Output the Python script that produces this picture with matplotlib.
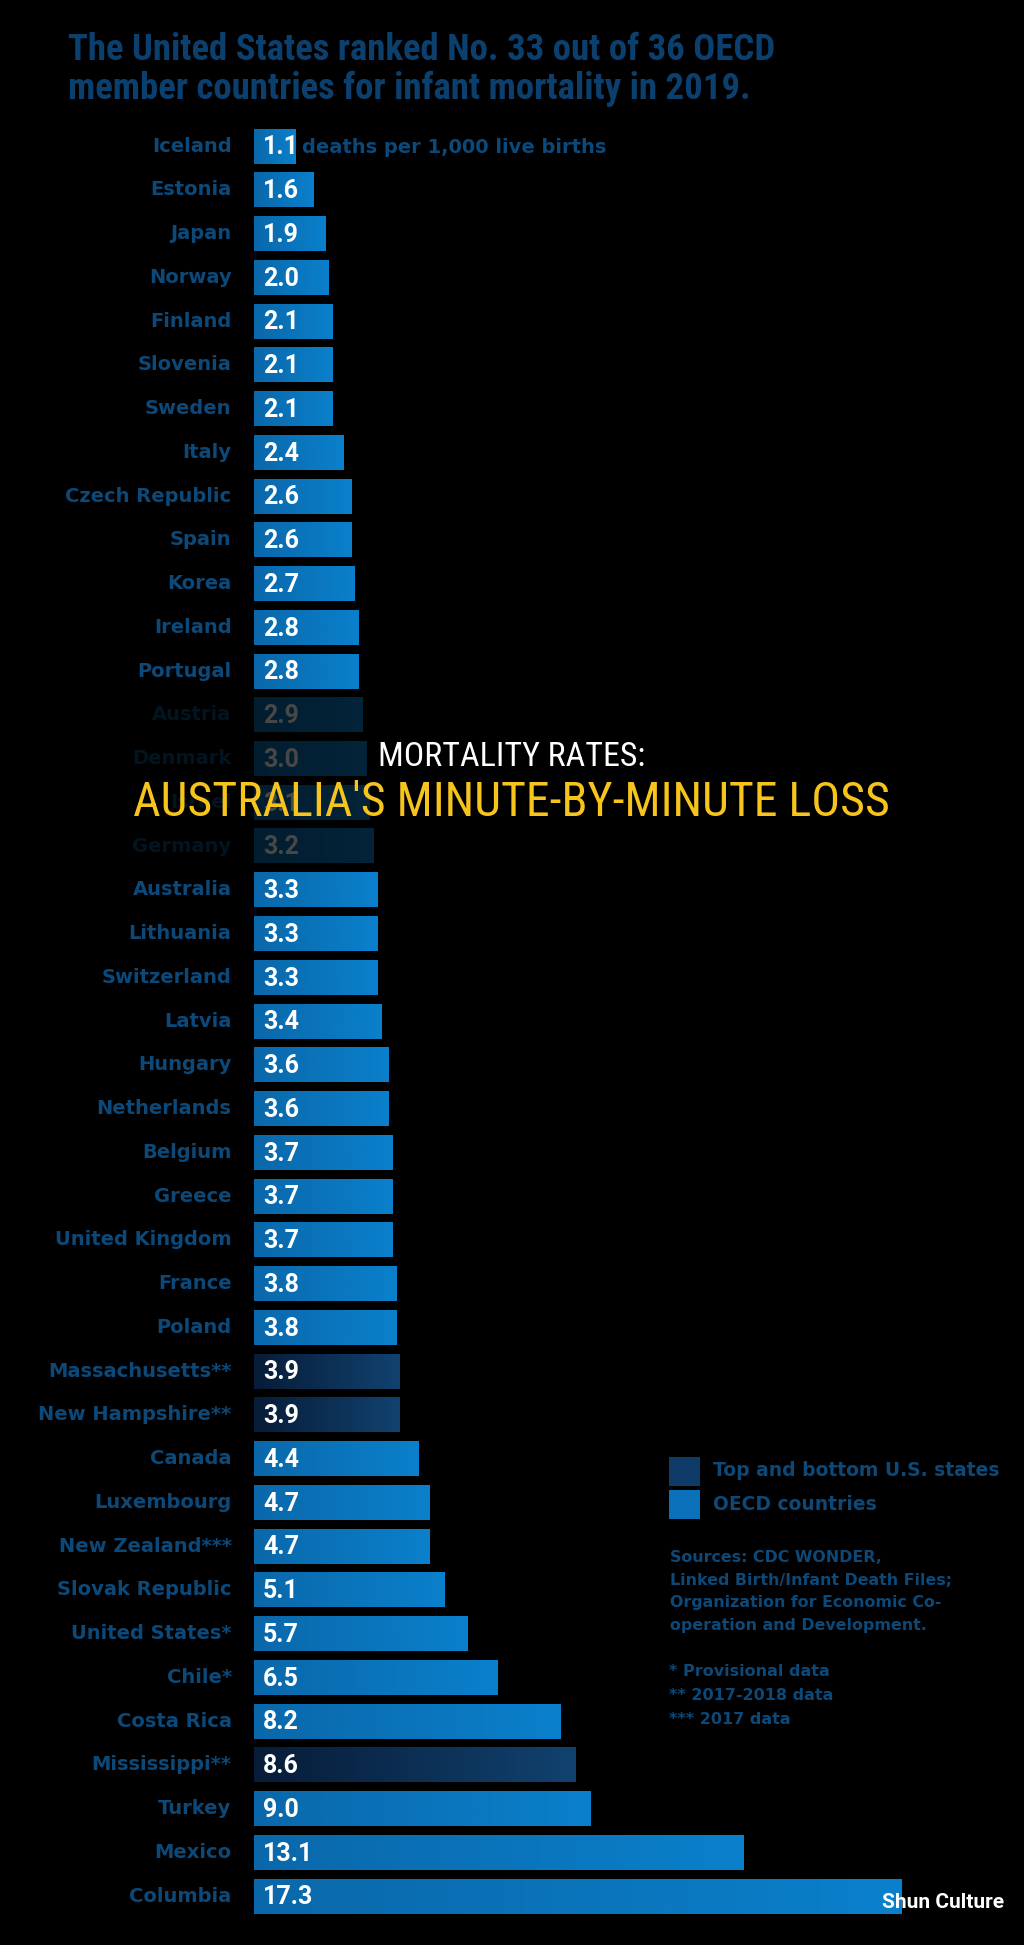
import matplotlib
matplotlib.use("Agg")
import matplotlib.pyplot as plt
import numpy as np
from matplotlib.colors import LinearSegmentedColormap
from matplotlib.patches import Rectangle

# infant deaths per 1,000 live births, 2019
countries = ["Iceland", "Estonia", "Japan", "Norway", "Finland", "Slovenia", "Sweden",
             "Italy", "Czech Republic", "Spain", "Korea", "Ireland", "Portugal",
             "Austria", "Denmark", "Israel", "Germany", "Australia", "Lithuania",
             "Switzerland", "Latvia", "Hungary", "Netherlands", "Belgium", "Greece",
             "United Kingdom", "France", "Poland", "Massachusetts**", "New Hampshire**",
             "Canada", "Luxembourg", "New Zealand***", "Slovak Republic",
             "United States*", "Chile*", "Costa Rica", "Mississippi**", "Turkey",
             "Mexico", "Columbia"]
rates = [1.1, 1.6, 1.9, 2.0, 2.1, 2.1, 2.1, 2.4, 2.6, 2.6, 2.7, 2.8, 2.8,
         2.9, 3.0, 3.1, 3.2, 3.3, 3.3, 3.3, 3.4, 3.6, 3.6, 3.7, 3.7, 3.7, 3.8, 3.8,
         3.9, 3.9, 4.4, 4.7, 4.7, 5.1, 5.7, 6.5, 8.2, 8.6, 9.0, 13.1, 17.3]
us_states = ["Massachusetts**", "New Hampshire**", "Mississippi**"]

W, H = 1024, 1945
x0 = 254          # pixel where a bar starts
px_unit = 37.4    # pixels per death per 1,000
y0, pitch = 146, 43.75

label_col = "#0c4878"
oecd_cmap = LinearSegmentedColormap.from_list("oecd", ["#0a68aa", "#0a80cc"])
state_cmap = LinearSegmentedColormap.from_list("state", ["#071c38", "#11426f"])

fig = plt.figure(figsize=(W / 100, H / 100), dpi=100, facecolor="black")
ax = fig.add_axes([0, 0, 1, 1])
ax.set_facecolor("black")

grad = np.linspace(0, 1, 256).reshape(1, -1)
bh = 0.8
for i, (name, v) in enumerate(zip(countries, rates)):
    cm = state_cmap if name in us_states else oecd_cmap
    ax.imshow(grad, extent=[0, v, i + bh / 2, i - bh / 2], cmap=cm,
              aspect="auto", interpolation="bilinear", zorder=2)
    ax.text(-0.6, i, name, ha="right", va="center", color=label_col,
            fontsize=14, fontweight="bold", family="DejaVu Sans", zorder=3)
    ax.text(0.24, i + 0.03, f"{v:.1f}", ha="left", va="center", color="white",
            fontsize=18, fontweight="bold", family="Roboto", zorder=3)

ax.text(rates[0] + 0.18, 0.03, "deaths per 1,000 live births", ha="left", va="center",
        color=label_col, fontsize=14, fontweight="bold", family="DejaVu Sans", zorder=3)

# dark band behind the overlay headline
ax.axhspan(12.5, 16.45, color="black", alpha=0.72, zorder=5, lw=0)

ax.set_xlim(-x0 / px_unit, (W - x0) / px_unit)
ax.set_ylim((H - y0) / pitch, -y0 / pitch)
ax.axis("off")

def fy(py):
    return 1 - py / H

narrow = ["Roboto Condensed", "Roboto", "DejaVu Sans"]
fig.text(68 / W, fy(50), "The United States ranked No. 33 out of 36 OECD",
         color="#0b3f6d", fontsize=26.5, fontweight="heavy", family=narrow, va="center")
fig.text(68 / W, fy(89), "member countries for infant mortality in 2019.",
         color="#0b3f6d", fontsize=26.5, fontweight="heavy", family=narrow, va="center")

# legend
fig.add_artist(Rectangle((669 / W, fy(1486)), 31 / W, 29 / H, transform=fig.transFigure,
                         facecolor="#0d3a66", lw=0))
fig.add_artist(Rectangle((669 / W, fy(1519)), 31 / W, 29 / H, transform=fig.transFigure,
                         facecolor="#0a70ba", lw=0))
fig.text(713 / W, fy(1471), "Top and bottom U.S. states", color=label_col,
         fontsize=13.5, fontweight="bold", va="center")
fig.text(713 / W, fy(1505), "OECD countries", color=label_col,
         fontsize=13.5, fontweight="bold", va="center")

sources = ["Sources: CDC WONDER,", "Linked Birth/Infant Death Files;",
           "Organization for Economic Co-", "operation and Development."]
for k, line in enumerate(sources):
    fig.text(670 / W, fy(1558 + k * 22.5), line, color=label_col,
             fontsize=11.4, fontweight="bold", va="center")
notes = ["* Provisional data", "** 2017-2018 data", "*** 2017 data"]
for k, line in enumerate(notes):
    fig.text(669 / W, fy(1672 + k * 23.5), line, color=label_col,
             fontsize=11.5, fontweight="bold", va="center")

# overlay headline
fig.text(512 / W, fy(757), "MORTALITY RATES:", color="white", fontsize=24.5,
         family=narrow, ha="center", va="center", zorder=10)
fig.text(511 / W, fy(803), "AUSTRALIA'S MINUTE-BY-MINUTE LOSS", color="#f7c41c",
         fontsize=34.5, family=narrow, ha="center", va="center", zorder=10)

fig.text(1004 / W, fy(1903), "Shun Culture", color="white", fontsize=15,
         fontweight="bold", family="Roboto", ha="right", va="center", zorder=10)

fig.savefig("out.png", dpi=100, facecolor="black")
